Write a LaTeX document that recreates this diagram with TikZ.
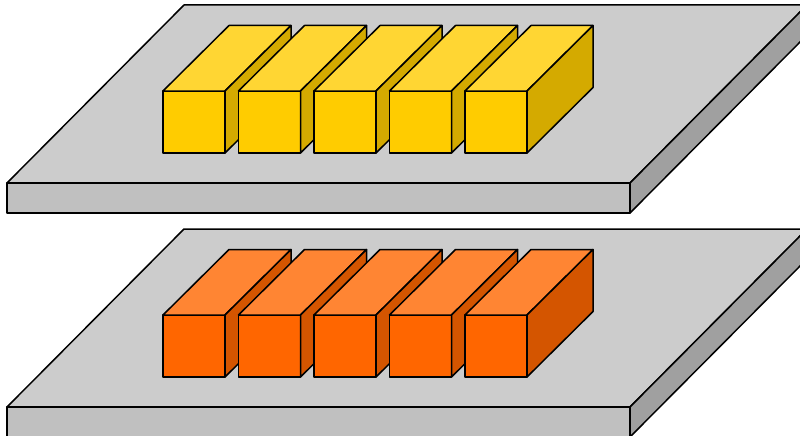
\documentclass[tikz,border=0pt]{standalone}
\definecolor{slabtop}{HTML}{CCCCCC}
\definecolor{slabfront}{HTML}{C0C0C0}
\definecolor{slabside}{HTML}{A0A0A0}
\definecolor{ytop}{HTML}{FFD633}
\definecolor{yfront}{HTML}{FFCC00}
\definecolor{yside}{HTML}{D4AA00}
\definecolor{otop}{HTML}{FF8533}
\definecolor{ofront}{HTML}{FF6600}
\definecolor{oside}{HTML}{D45500}
\begin{document}
\begin{tikzpicture}[x=1pt,y=-1pt,
  face/.style={draw=black,line width=1.5pt,line join=round}]
\useasboundingbox (0,0) rectangle (800,436);
\clip (0,0) rectangle (800,436);
\foreach \oy/\ct/\cf/\cs in {0/ytop/yfront/yside, 224/otop/ofront/oside} {
  \begin{scope}[shift={(0,\oy)}]
    % slab
    \draw[face,fill=slabtop] (7,183) -- (630,183) -- (807,5) -- (184,5) -- cycle;
    \draw[face,fill=slabfront] (7,183) rectangle (630,213);
    \draw[face,fill=slabside] (630,183) -- (807,5) -- (807,35) -- (630,213) -- cycle;
    % bars
    \foreach \i in {0,...,4} {
      \pgfmathsetmacro{\x}{163+75.5*\i}
      \draw[face,fill=\cf] (\x,91) rectangle ({\x+62},153);
      \draw[face,fill=\ct] (\x,91) -- ({\x+66},25.5) -- ({\x+128},25.5) -- ({\x+62},91) -- cycle;
      \draw[face,fill=\cs] ({\x+62},91) -- ({\x+128},25.5) -- ({\x+128},87.5) -- ({\x+62},153) -- cycle;
    }
  \end{scope}
}
\end{tikzpicture}
\end{document}
